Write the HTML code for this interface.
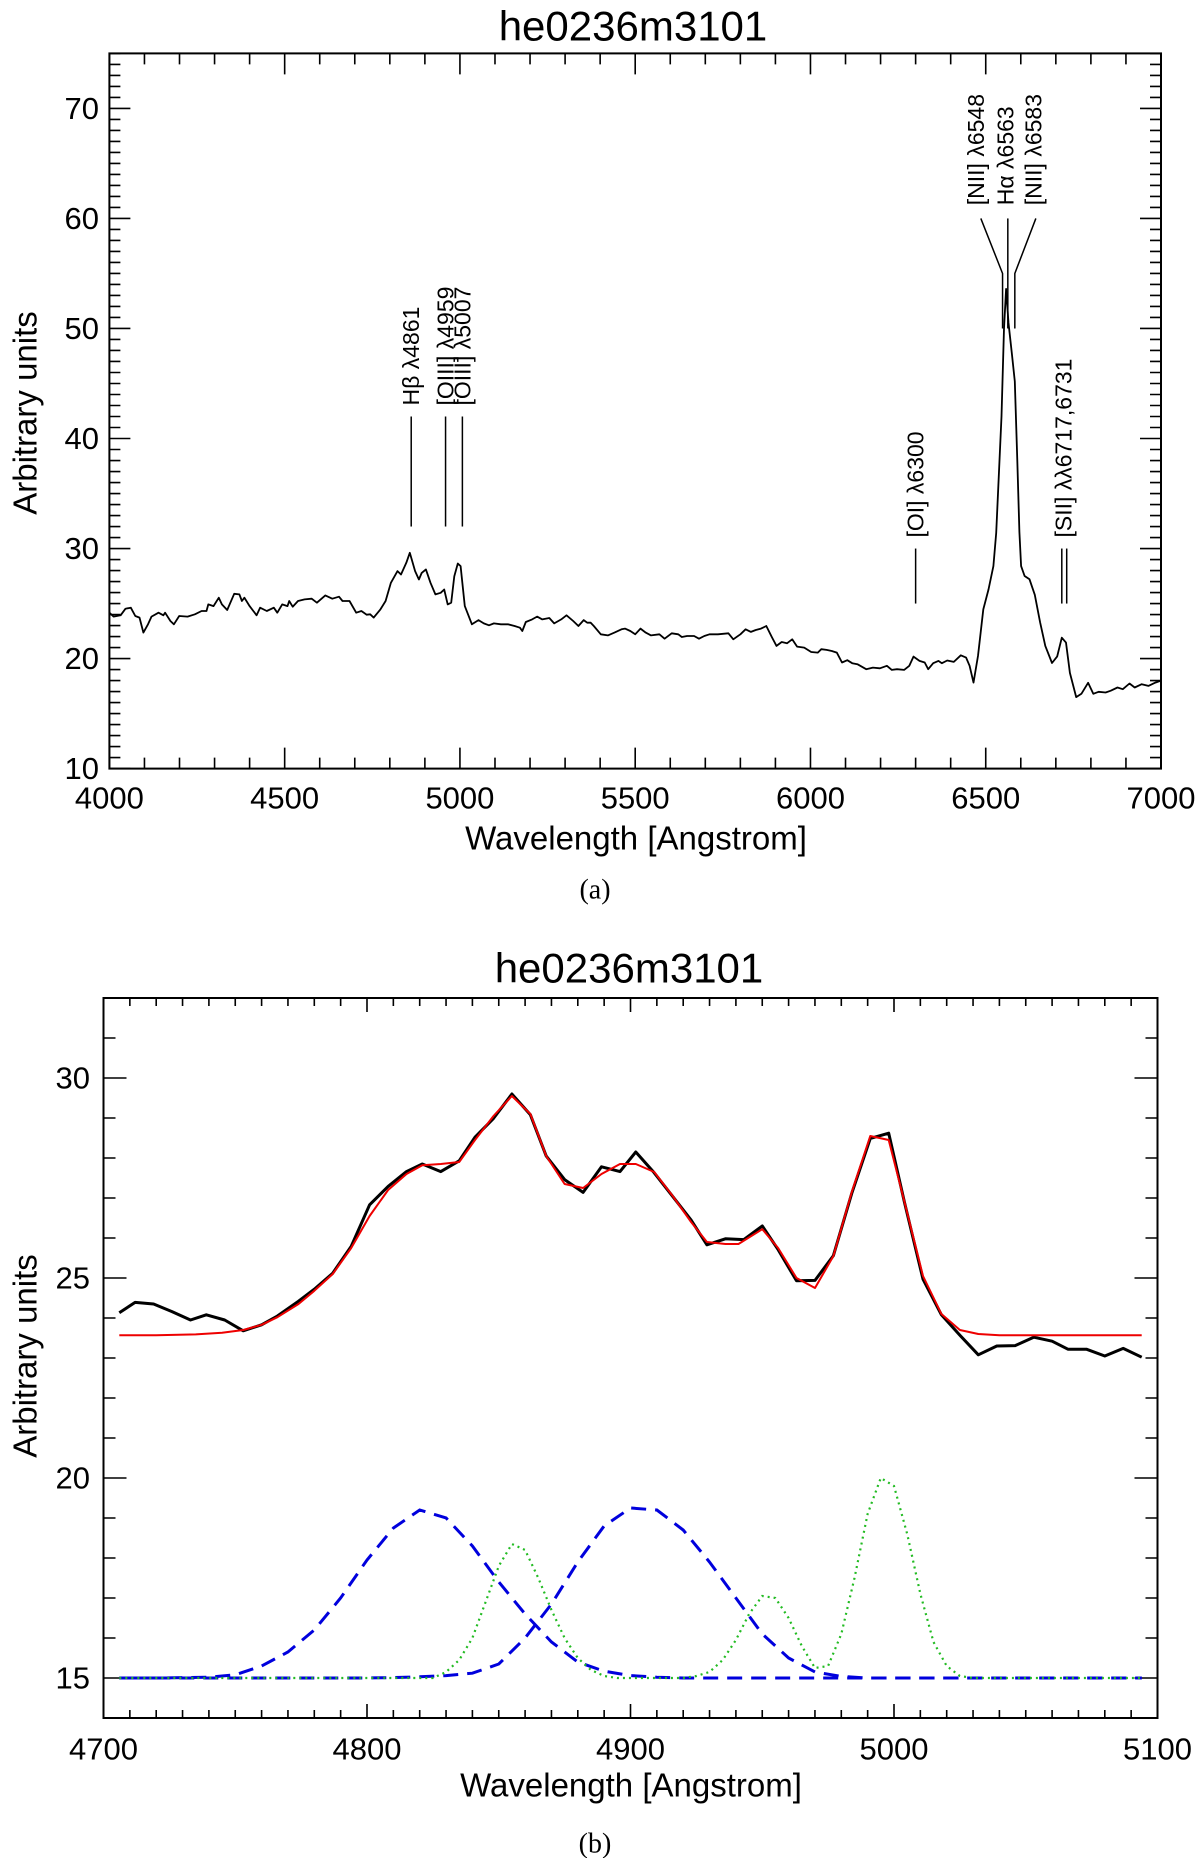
<!DOCTYPE html>
<html><head><meta charset="utf-8"><style>
body{margin:0;background:#fff}
svg text{font-family:"Liberation Sans",sans-serif;fill:#000}
</style></head><body>
<svg id="fig" xmlns="http://www.w3.org/2000/svg" width="1200" height="1858" viewBox="0 0 1200 1858">
<rect width="1200" height="1858" fill="#fff"/>
<g id="pa"></g>
<g id="pb"></g>
<text x="633" y="26" font-size="42" text-anchor="middle" dominant-baseline="central">he0236m3101</text>
<text x="636" y="838" font-size="33" text-anchor="middle" dominant-baseline="central">Wavelength [Angstrom]</text>
<text transform="translate(25,413) rotate(-90)" font-size="33" text-anchor="middle" dominant-baseline="central">Arbitrary units</text>
<text x="595" y="890" font-size="28" text-anchor="middle" dominant-baseline="central" style="font-family:'Liberation Serif',serif">(a)</text>
<text x="629" y="968" font-size="42" text-anchor="middle" dominant-baseline="central">he0236m3101</text>
<text x="631" y="1785" font-size="33" text-anchor="middle" dominant-baseline="central">Wavelength [Angstrom]</text>
<text transform="translate(25,1356) rotate(-90)" font-size="33" text-anchor="middle" dominant-baseline="central">Arbitrary units</text>
<text x="595" y="1844" font-size="28" text-anchor="middle" dominant-baseline="central" style="font-family:'Liberation Serif',serif">(b)</text>
</svg>
<script>
// ---- Panel A data ----
const specWave = [4000,4012,4032,4046,4061,4074,4086,4097,4110,4120,4140,4154,4159,4174,4184,4199,4223,4244,4263,4277,4282,4297,4312,4321,4336,4356,4371,4378,4385,4400,4420,4430,4449,4469,4479,4493,4508,4513,4523,4538,4557,4577,4592,4616,4636,4655,4665,4685,4704,4719,4734,4744,4754,4773,4788,4803,4822,4832,4847,4857,4872,4883,4891,4903,4916,4930,4945,4955,4965,4975,4984,4994,5002,5014,5034,5053,5068,5083,5097,5117,5137,5156,5171,5178,5188,5206,5220,5235,5255,5269,5289,5304,5323,5338,5353,5363,5373,5382,5402,5422,5441,5461,5471,5486,5500,5515,5530,5545,5569,5584,5604,5623,5633,5648,5668,5682,5697,5712,5736,5766,5780,5800,5815,5830,5844,5859,5874,5889,5903,5918,5933,5948,5962,5982,6002,6021,6031,6046,6061,6075,6090,6105,6119,6134,6159,6178,6198,6218,6232,6247,6267,6282,6294,6311,6326,6336,6350,6365,6375,6390,6409,6429,6444,6454,6465,6478,6493,6508,6522,6530,6545,6552,6558,6565,6575,6583,6590,6596,6601,6611,6625,6640,6655,6670,6689,6704,6717,6729,6740,6758,6773,6792,6807,6822,6842,6856,6876,6891,6910,6925,6945,6964,6984,6999];
const specFlux = [24.17,23.81,23.93,24.53,24.62,23.87,23.72,22.36,23.11,23.81,24.17,23.93,24.17,23.41,23.11,23.87,23.81,24.02,24.32,24.32,24.92,24.77,25.53,24.92,24.41,25.89,25.83,25.23,25.53,24.77,23.93,24.62,24.32,24.62,24.17,24.92,24.77,25.23,24.71,25.23,25.38,25.44,25.08,25.74,25.44,25.62,25.23,25.23,24.17,24.32,23.99,24.02,23.72,24.47,25.23,26.89,27.95,27.64,28.70,29.61,27.95,27.19,27.79,28.10,26.89,25.83,25.98,26.28,24.92,25.08,27.49,28.64,28.40,24.77,23.11,23.50,23.20,23.02,23.20,23.11,23.11,22.96,22.81,22.51,23.32,23.56,23.81,23.56,23.69,23.20,23.56,23.93,23.41,22.96,23.50,23.26,23.26,22.96,22.21,22.11,22.36,22.66,22.72,22.51,22.21,22.72,22.36,22.11,22.21,21.81,22.30,22.21,21.96,22.05,22.05,21.81,22.05,22.21,22.21,22.30,21.75,22.21,22.66,22.42,22.60,22.72,22.96,22.00,21.15,21.51,21.39,21.75,21.09,21.00,20.60,20.54,20.85,20.79,20.69,20.54,19.64,19.85,19.58,19.49,19.03,19.18,19.12,19.34,18.97,19.03,18.97,19.34,20.18,19.79,19.64,19.03,19.58,19.79,19.58,19.82,19.70,20.30,20.09,19.34,17.82,20.24,24.47,26.28,28.40,31.42,42.0,50.0,53.6,50.5,47.6,45.2,38.0,31.5,28.4,27.5,27.2,25.8,23.3,21.15,19.6,20.2,21.9,21.45,18.7,16.5,16.8,17.8,16.8,16.98,16.92,17.07,17.37,17.22,17.73,17.37,17.67,17.52,17.82,17.98];
const aXTicks = [4000,4500,5000,5500,6000,6500,7000];
const aYTicks = [10,20,30,40,50,60,70];
const lineWave = [4861,4959,5007,6300,6717,6731];
const lineLow  = [32,32,32,25,25,25];
const lineHigh = [42,42,42,30,30,30];
const lineLabels = ["Hβ λ4861","[OIII] λ4959","[OIII] λ5007","[OI] λ6300","[SII] λλ6717,6731"];
const labelWave = [4861,4959,5007,6300,6722];
const labelBase = [43,43,43,31,31];
const nWave = [6548,6563,6583];
const nTopWave = [6486,6563,6643];
const nLabels = ["[NII] λ6548","Hα λ6563","[NII] λ6583"];
const nLabelWave = [6472,6556,6636];

// ---- Panel B data ----
const dataWave = [4706,4712,4719,4726,4733,4739,4746,4753,4760,4766,4774,4780,4787,4794,4801,4808,4815,4821,4828,4835,4841,4848,4855,4862,4868,4875,4882,4889,4896,4902,4909,4916,4923,4929,4936,4943,4950,4956,4963,4970,4977,4984,4991,4998,5004,5011,5018,5025,5032,5039,5046,5053,5060,5066,5073,5080,5087,5094];
const dataFlux = [24.13,24.39,24.35,24.16,23.95,24.08,23.95,23.68,23.83,24.05,24.42,24.72,25.12,25.79,26.83,27.29,27.66,27.85,27.66,27.93,28.52,28.99,29.60,29.08,28.05,27.46,27.14,27.78,27.66,28.15,27.63,27.04,26.45,25.83,25.98,25.96,26.30,25.71,24.93,24.94,25.56,27.12,28.49,28.62,26.89,24.97,24.08,23.57,23.08,23.30,23.31,23.52,23.42,23.22,23.22,23.05,23.24,23.02];
const fitWave = [4706,4720,4735,4745,4753,4760,4766,4774,4780,4787,4794,4801,4808,4815,4821,4828,4835,4841,4848,4855,4862,4868,4875,4882,4889,4896,4902,4909,4916,4923,4929,4936,4941,4950,4956,4963,4970,4977,4984,4991,4998,5004,5011,5018,5025,5032,5040,5060,5080,5094];
const fitFlux = [23.57,23.57,23.59,23.63,23.70,23.83,24.02,24.35,24.68,25.10,25.75,26.55,27.20,27.60,27.82,27.85,27.90,28.45,29.05,29.55,29.10,28.05,27.35,27.25,27.60,27.85,27.85,27.65,27.05,26.40,25.90,25.85,25.85,26.22,25.75,25.00,24.75,25.55,27.15,28.55,28.45,26.90,25.05,24.10,23.70,23.60,23.57,23.57,23.57,23.57];
const blueWave = [4706,4720,4730,4740,4750,4760,4770,4780,4790,4800,4810,4820,4830,4840,4850,4860,4870,4880,4890,4900,4910,4920,4930,4940,4950,4960,4970,4980,4990,5000,5050,5094];
const blue1Flux = [15,15,15.01,15.02,15.08,15.3,15.65,16.2,17.0,17.95,18.75,19.2,19.0,18.3,17.4,16.6,15.9,15.4,15.17,15.06,15.02,15,15,15,15,15,15,15,15,15,15,15];
const blue2Flux = [15,15,15,15,15,15,15,15,15,15,15.01,15.03,15.06,15.12,15.35,16.0,16.85,17.9,18.8,19.25,19.2,18.7,17.9,17.0,16.1,15.5,15.15,15.04,15.0,15,15,15];
const greenWave = [4706,4820,4825,4830,4835,4840,4845,4850,4855,4860,4865,4870,4875,4880,4885,4890,4895,4920,4925,4930,4935,4940,4945,4950,4955,4960,4965,4970,4975,4980,4985,4990,4995,5000,5005,5010,5015,5020,5025,5030,5094];
const greenFlux = [15,15,15.0,15.15,15.45,16.0,16.9,17.8,18.35,18.2,17.5,16.7,16.0,15.5,15.2,15.05,15.0,15.0,15.05,15.15,15.45,15.95,16.6,17.05,17.0,16.5,15.8,15.25,15.3,16.1,17.5,19.1,20.0,19.8,18.6,17.1,15.9,15.3,15.05,15.0,15.0];
const bXTicks = [4700,4800,4900,5000,5100];
const bYTicks = [15,20,25,30];

const NS="http://www.w3.org/2000/svg";
function mk(parent,tag,attrs,text){const e=document.createElementNS(NS,tag);for(const k in attrs)e.setAttribute(k,attrs[k]);if(text!==undefined)e.textContent=text;parent.appendChild(e);return e;}
function scale(d0,d1,r0,r1){return v=>r0+(v-d0)*(r1-r0)/(d1-d0);}
function pathD(xs,ys,sx,sy){return xs.map((x,i)=>(i?'L':'M')+sx(x).toFixed(1)+' '+sy(ys[i]).toFixed(1)).join(' ');}

function axes(g,L,R,T,B,x0,x1,y0,y1,xMaj,xMin,yMaj,yMin,xMajLen,xMinLen,yMajLen,yMinLen,xTicks,yTicks,xLabY,yLabX,pref){
  const sx=scale(x0,x1,L,R), sy=scale(y0,y1,B,T);
  const frame=mk(g,'rect',{x:L,y:T,width:R-L,height:B-T,fill:'none',stroke:'#000','stroke-width':2});
  
  
  let d='';
  for(let v=x0;v<=x1+1e-6;v+=xMin){const maj=Math.abs(v/xMaj-Math.round(v/xMaj))<1e-6;const l=maj?xMajLen:xMinLen;const x=sx(v);d+=`M${x} ${B}V${B-l}M${x} ${T}V${T+l}`;}
  for(let v=y0;v<=y1+1e-6;v+=yMin){const maj=Math.abs(v/yMaj-Math.round(v/yMaj))<1e-6;const l=maj?yMajLen:yMinLen;const y=sy(v);d+=`M${L} ${y}H${L+l}M${R} ${y}H${R-l}`;}
  const tk=mk(g,'path',{d:d,stroke:'#000','stroke-width':1.6,fill:'none'});
  
  
  xTicks.forEach(v=>{const t=mk(g,'text',{x:sx(v),y:xLabY,'font-size':31,'text-anchor':'middle','dominant-baseline':'central'},String(v));
    
    });
  yTicks.forEach(v=>{const t=mk(g,'text',{x:yLabX,y:sy(v),'font-size':31,'text-anchor':'end','dominant-baseline':'central'},String(v));
    
    });
  return [sx,sy];
}

// Panel A
const ga=document.getElementById('pa');
const [ax,ay]=axes(ga,109.4,1161,53.4,768.6,4000,7000,10,75,500,100,10,1,21,11,21,11,aXTicks,aYTicks,798,99,'panel-a');
const sp=mk(ga,'path',{d:pathD(specWave,specFlux,ax,ay),fill:'none',stroke:'#000','stroke-width':1.8,'stroke-linejoin':'round'});


lineWave.forEach((w,i)=>{const l=mk(ga,'line',{x1:ax(w),x2:ax(w),y1:ay(lineLow[i]),y2:ay(lineHigh[i]),stroke:'#000','stroke-width':1.5});
  
  });
lineLabels.forEach((s,i)=>{const x=ax(labelWave[i]),y=ay(labelBase[i]);
  const t=mk(ga,'text',{transform:`translate(${x},${y}) rotate(-90)`,'font-size':23,'text-anchor':'start','dominant-baseline':'central'},s);
  
  });
nWave.forEach((w,i)=>{const p=mk(ga,'path',{d:`M${ax(w)} ${ay(50)}V${ay(i===1?60:55)}L${ax(nTopWave[i])} ${ay(60)}`,fill:'none',stroke:'#000','stroke-width':1.5});
  
  });
nLabels.forEach((s,i)=>{const x=ax(nLabelWave[i]),y=ay(61.2);
  const t=mk(ga,'text',{transform:`translate(${x},${y}) rotate(-90)`,'font-size':23,'text-anchor':'start','dominant-baseline':'central'},s);
  
  });

// Panel B
const gb=document.getElementById('pb');
const [bx,by]=axes(gb,103.5,1157.5,998,1718,4700,5100,14,32,100,10,5,1,14,8,23,12,bXTicks,bYTicks,1749,90,'panel-b');
const b1=mk(gb,'path',{d:pathD(blueWave,blue1Flux,bx,by),fill:'none',stroke:'#0000dd','stroke-width':3,'stroke-dasharray':'15 9'});


const b2=mk(gb,'path',{d:pathD(blueWave,blue2Flux,bx,by),fill:'none',stroke:'#0000dd','stroke-width':3,'stroke-dasharray':'15 9','stroke-dashoffset':12});


const gr=mk(gb,'path',{d:pathD(greenWave,greenFlux,bx,by),fill:'none',stroke:'#22bb22','stroke-width':2.2,'stroke-dasharray':'2 4'});


const dl=mk(gb,'path',{d:pathD(dataWave,dataFlux,bx,by),fill:'none',stroke:'#000','stroke-width':3,'stroke-linejoin':'round'});


const fl=mk(gb,'path',{d:pathD(fitWave,fitFlux,bx,by),fill:'none',stroke:'#ee0000','stroke-width':2,'stroke-linejoin':'round'});


</script>
</body></html>
